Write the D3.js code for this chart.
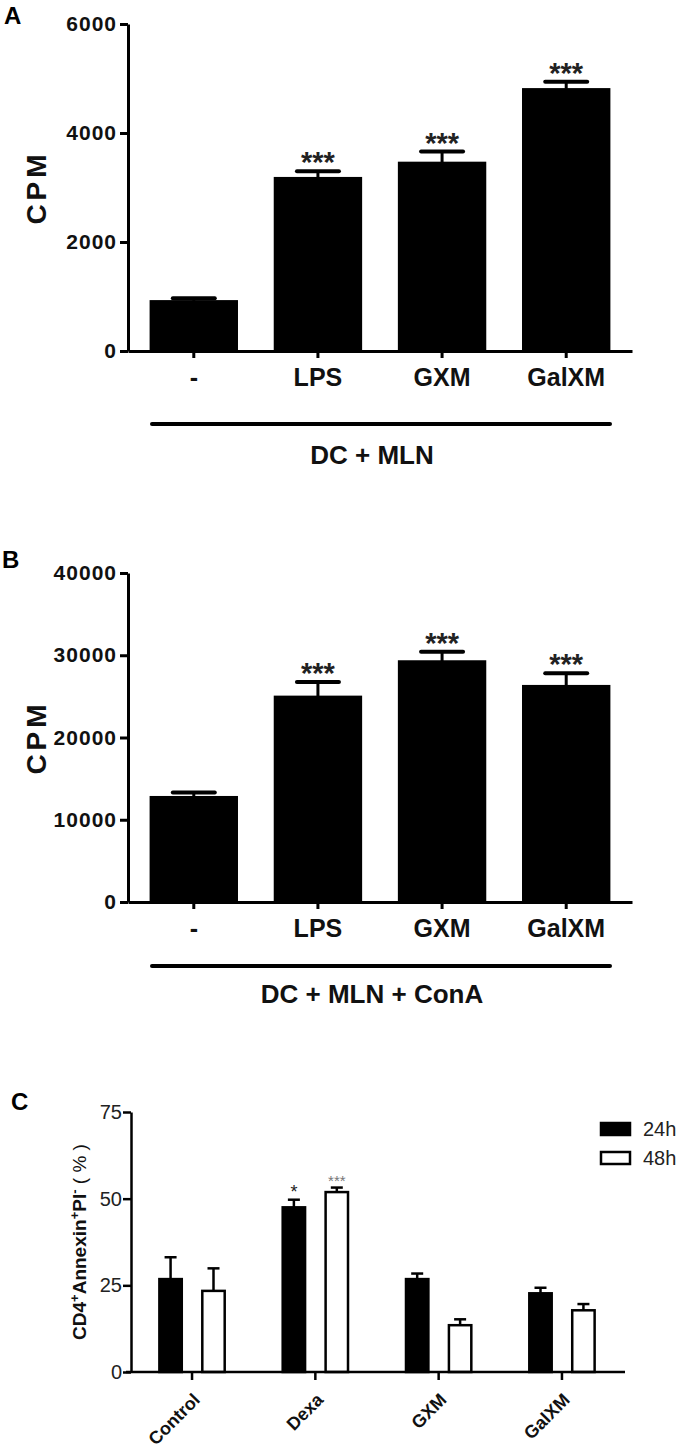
<!DOCTYPE html>
<html><head><meta charset="utf-8">
<script src="https://cdn.jsdelivr.net/npm/d3@7"></script>
<style>
body{margin:0;background:#fff}
text{font-family:"Liberation Sans",Arial,sans-serif}
</style></head><body>
<script>
// ---- data ----
const categoriesAB = ["-", "LPS", "GXM", "GalXM"];
const cpmA = [920, 3180, 3460, 4810];
const cpmAErr = [50, 120, 200, 130];
const sigA = ["", "***", "***", "***"];
const ticksA = [0, 2000, 4000, 6000];
const groupLabelA = "DC + MLN";

const cpmB = [12800, 25000, 29300, 26300];
const cpmBErr = [500, 1750, 1130, 1500];
const sigB = ["", "***", "***", "***"];
const ticksB = [0, 10000, 20000, 30000, 40000];
const groupLabelB = "DC + MLN + ConA";

const categoriesC = ["Control", "Dexa", "GXM", "GalXM"];
const seriesC = ["24h", "48h"];
const apop24 = [26.8, 47.5, 26.8, 22.7];
const apop24Err = [6.3, 2.2, 1.6, 1.6];
const apop48 = [23.4, 51.9, 13.5, 17.8];
const apop48Err = [6.5, 1.3, 1.7, 1.8];
const sig24 = ["", "*", "", ""];
const sig48 = ["", "***", "", ""];
const ticksC = [0, 25, 50, 75];

const svg = d3.select("body").append("svg").attr("width", 685).attr("height", 1450);

function drawAB(o) {
  const x = d3.scaleBand().domain(categoriesAB).range([128, 632]).paddingInner(0.3).paddingOuter(0.18);
  const y = d3.scaleLinear().domain([0, o.max]).range([o.y0, o.y1]);
  const g = svg.append("g");
  const rows = categoriesAB.map((c, i) => ({c, v: o.vals[i], e: o.errs[i], s: o.sig[i]}));
  const cx = d => x(d.c) + x.bandwidth() / 2;

  // error bars
  g.selectAll("line.err").data(rows).join("line")
    .attr("x1", cx).attr("x2", cx).attr("y1", d => y(d.v)).attr("y2", d => y(d.v + d.e))
    .attr("stroke", "#000").attr("stroke-width", 3);
  g.selectAll("line.cap").data(rows).join("line")
    .attr("x1", d => cx(d) - 21).attr("x2", d => cx(d) + 21)
    .attr("y1", d => y(d.v + d.e)).attr("y2", d => y(d.v + d.e))
    .attr("stroke", "#000").attr("stroke-width", 4).attr("stroke-linecap", "round");
  // bars
  g.selectAll("rect.bar").data(rows).join("rect")
    .attr("x", d => x(d.c)).attr("width", x.bandwidth())
    .attr("y", d => y(d.v)).attr("height", d => o.y0 - y(d.v))
    .attr("fill", "#000").attr("stroke", "#000").attr("stroke-width", 1.5);
  // significance
  g.selectAll("text.sig").data(rows).join("text")
    .attr("x", cx).attr("y", d => y(d.v + d.e) + 1)
    .attr("text-anchor", "middle").attr("font-size", 29).attr("font-weight", "bold")
    .attr("fill", "#222").text(d => d.s);

  // y axis
  const ya = g.append("g").attr("transform", "translate(128,0)")
    .call(d3.axisLeft(y).tickValues(o.ticks).tickSize(8).tickSizeOuter(0).tickPadding(3).tickFormat(d3.format("d")));
  ya.selectAll("path,line").attr("stroke", "#000").attr("stroke-width", 3);
  ya.selectAll("text").attr("font-size", 21).attr("font-weight", "bold").attr("fill", "#111")
    .attr("font-family", '"Liberation Sans",Arial,sans-serif').attr("letter-spacing", 1);
  // x axis
  const xa = g.append("g").attr("transform", `translate(0,${o.y0})`)
    .call(d3.axisBottom(x).tickSize(7).tickSizeOuter(0).tickPadding(10));
  xa.selectAll("path,line").attr("stroke", "#000").attr("stroke-width", 3);
  xa.selectAll("text").attr("font-size", 25).attr("font-weight", "bold").attr("fill", "#111")
    .attr("font-family", '"Liberation Sans",Arial,sans-serif');

  // y label
  g.append("text").attr("transform", `translate(46,${(o.y0 + o.y1) / 2}) rotate(-90)`)
    .attr("text-anchor", "middle").attr("font-size", 28).attr("font-weight", "bold")
    .attr("letter-spacing", 4).attr("fill", "#111").text("CPM");
  // group line + label
  g.append("line").attr("x1", 152).attr("x2", 610).attr("y1", o.lineY).attr("y2", o.lineY)
    .attr("stroke", "#000").attr("stroke-width", 4).attr("stroke-linecap", "round");
  g.append("text").attr("x", 372).attr("y", o.textY).attr("text-anchor", "middle")
    .attr("font-size", 26).attr("font-weight", "bold").attr("fill", "#111").text(o.group);
  // panel letter
  g.append("text").attr("x", o.lx).attr("y", o.ly).attr("font-size", 24).attr("font-weight", "bold")
    .text(o.letter);
}

drawAB({vals: cpmA, errs: cpmAErr, sig: sigA, ticks: ticksA, max: 6000, y0: 351, y1: 24,
  lineY: 424, textY: 464, group: groupLabelA, letter: "A", lx: 4, ly: 24});
drawAB({vals: cpmB, errs: cpmBErr, sig: sigB, ticks: ticksB, max: 40000, y0: 902, y1: 573,
  lineY: 966, textY: 1003, group: groupLabelB, letter: "B", lx: 2, ly: 568});

// ---- panel C ----
(function () {
  const y0 = 1372, y1 = 1112;
  const x0 = d3.scaleBand().domain(categoriesC).range([131, 623]).paddingInner(0.45).paddingOuter(0.22);
  const x1 = d3.scaleBand().domain(seriesC).range([0, x0.bandwidth()]).paddingInner(0.42);
  const y = d3.scaleLinear().domain([0, 75]).range([y0, y1]);
  const g = svg.append("g");
  const rows = [];
  categoriesC.forEach((c, i) => {
    rows.push({c, s: "24h", v: apop24[i], e: apop24Err[i], sig: sig24[i]});
    rows.push({c, s: "48h", v: apop48[i], e: apop48Err[i], sig: sig48[i]});
  });
  const bx = d => x0(d.c) + x1(d.s);
  const cx = d => bx(d) + x1.bandwidth() / 2;

  g.selectAll("line.err").data(rows).join("line")
    .attr("x1", cx).attr("x2", cx).attr("y1", d => y(d.v)).attr("y2", d => y(d.v + d.e))
    .attr("stroke", "#000").attr("stroke-width", 2.5);
  g.selectAll("line.cap").data(rows).join("line")
    .attr("x1", d => cx(d) - 6).attr("x2", d => cx(d) + 6)
    .attr("y1", d => y(d.v + d.e)).attr("y2", d => y(d.v + d.e))
    .attr("stroke", "#000").attr("stroke-width", 2.5);
  g.selectAll("rect.bar").data(rows).join("rect")
    .attr("x", d => bx(d) + 1.25).attr("width", x1.bandwidth() - 2.5)
    .attr("y", d => y(d.v)).attr("height", d => y0 - y(d.v))
    .attr("fill", d => d.s === "24h" ? "#000" : "#fff").attr("stroke", "#000").attr("stroke-width", 2.5);
  g.selectAll("text.sig").data(rows.filter(d => d.sig)).join("text")
    .attr("x", cx).attr("y", d => y(d.v + d.e) - 2)
    .attr("text-anchor", "middle")
    .attr("font-size", d => d.s === "24h" ? 18 : 15)
    .attr("fill", d => d.s === "24h" ? "#222" : "#777")
    .text(d => d.sig);

  const ya = g.append("g").attr("transform", "translate(131,0)")
    .call(d3.axisLeft(y).tickValues(ticksC).tickSize(8).tickSizeOuter(0).tickPadding(1));
  ya.selectAll("path,line").attr("stroke", "#000").attr("stroke-width", 2.5);
  ya.selectAll("text").attr("font-size", 20).attr("fill", "#222")
    .attr("font-family", '"Liberation Sans",Arial,sans-serif');
  const xa = g.append("g").attr("transform", `translate(0,${y0})`)
    .call(d3.axisBottom(x0).tickSize(8).tickSizeOuter(0));
  xa.select("path").attr("d", `M126,0H625`);
  xa.selectAll("path,line").attr("stroke", "#000").attr("stroke-width", 2.5);
  xa.selectAll("text").attr("x", 0).attr("y", 0).attr("dy", 0)
    .attr("transform", "translate(9,29) rotate(-45)").attr("text-anchor", "end")
    .attr("font-size", 18).attr("font-weight", "bold").attr("fill", "#111")
    .attr("font-family", '"Liberation Sans",Arial,sans-serif');

  // y label
  const yl = g.append("text").attr("transform", `translate(86,${(y0 + y1) / 2}) rotate(-90)`)
    .attr("text-anchor", "middle").attr("font-size", 19).attr("font-weight", "bold").attr("fill", "#111");
  yl.append("tspan").text("CD4");
  yl.append("tspan").attr("dy", -7).attr("font-size", 13).text("+");
  yl.append("tspan").attr("dy", 7).text("Annexin");
  yl.append("tspan").attr("dy", -7).attr("font-size", 13).text("+");
  yl.append("tspan").attr("dy", 7).text("PI");
  yl.append("tspan").attr("dy", -7).attr("font-size", 13).text("-");
  yl.append("tspan").attr("dy", 7).attr("font-weight", "normal").text(" ( % )");

  // legend
  const lg = g.append("g");
  seriesC.forEach((s, i) => {
    lg.append("rect").attr("x", 601).attr("y", 1123 + i * 29).attr("width", 29).attr("height", 12)
      .attr("fill", i === 0 ? "#000" : "#fff").attr("stroke", "#000").attr("stroke-width", 2.5);
    lg.append("text").attr("x", 643).attr("y", 1136 + i * 29).attr("font-size", 20).attr("fill", "#222").text(s);
  });

  g.append("text").attr("x", 11).attr("y", 1110).attr("font-size", 24).attr("font-weight", "bold").text("C");
})();
</script>
</body></html>
